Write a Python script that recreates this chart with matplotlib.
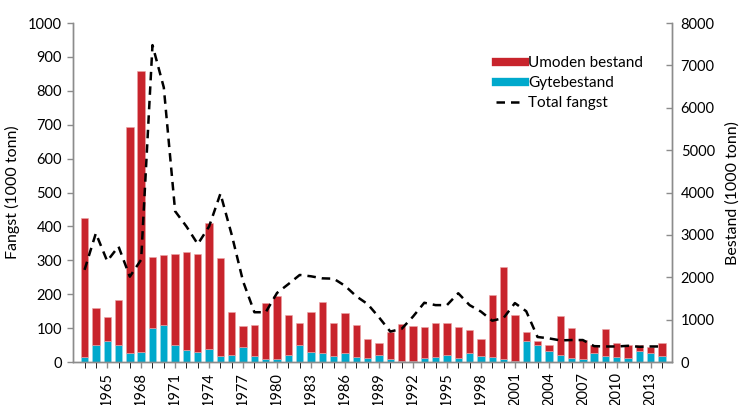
import numpy as np
import matplotlib.pyplot as plt
from matplotlib.lines import Line2D

plt.rcParams['font.family'] = ['Lato', 'DejaVu Sans']

years = np.arange(1963, 2015)

# Bestand (1000 tonn)
gytebestand = [120, 408, 504, 408, 216, 248, 800, 880, 408, 280,
               248, 312, 152, 176, 352, 152, 80, 80, 176, 400,
               248, 216, 152, 224, 128, 96, 168, 72, 24, 24,
               96, 120, 168, 96, 224, 152, 120, 72, 32, 504,
               408, 264, 176, 104, 72, 208, 152, 128, 104, 264,
               208, 152]
umoden_bestand = [3290, 864, 560, 1064, 5328, 6624, 1672, 1648, 2144, 2328,
                  2304, 2976, 2304, 1008, 496, 728, 1312, 1480, 936, 528,
                  936, 1208, 776, 936, 736, 448, 272, 648, 872, 832,
                  736, 800, 752, 736, 528, 400, 1464, 2168, 1080, 216,
                  88, 136, 904, 696, 456, 200, 632, 328, 304, 128,
                  136, 288]

# Fangst (1000 tonn)
total_fangst = [272, 380, 298, 341, 252, 302, 935, 810, 445, 400,
                348, 400, 497, 375, 238, 147, 147, 204, 230, 257,
                253, 247, 246, 225, 194, 171, 132, 90, 98, 134,
                175, 168, 168, 203, 168, 149, 122, 130, 174, 150,
                74, 70, 64, 65, 65, 47, 46, 46, 48, 45,
                46, 46]

tick_years = list(range(1965, 2014, 3))

red = '#C8242C'
cyan = '#00A9CC'
grey = '#8C8C8C'
dash = (0, (3.4, 2.4))

fig = plt.figure(figsize=(7.47, 4.05), dpi=100)
ax = fig.add_axes([0.098, 0.106, 0.802, 0.837])
ax2 = ax.twinx()

# stolper paa hoyre akse
ax2.bar(years, gytebestand, width=0.65, color=cyan, edgecolor='#9ED9E8', linewidth=0.4)
ax2.bar(years, umoden_bestand, width=0.65, bottom=gytebestand, color=red,
        edgecolor='#EBA3A6', linewidth=0.4)

# linje paa venstre akse, tegnet over stolpene
ax.plot(years, total_fangst, color='black', linestyle=dash, linewidth=1.8)
ax.set_zorder(ax2.get_zorder() + 1)
ax.patch.set_visible(False)

ax.set_xlim(1962, 2014.9)
ax.set_ylim(0, 1000)
ax2.set_ylim(0, 8000)
ax.set_yticks(range(0, 1001, 100))
ax2.set_yticks(range(0, 8001, 1000))

ax.set_xticks(years, minor=True)
ax.set_xticks(tick_years)
ax.set_xticklabels([str(y) for y in tick_years], rotation=90)

for a in (ax, ax2):
    a.spines['top'].set_visible(False)
    for s in ('left', 'right', 'bottom'):
        a.spines[s].set_color(grey)
        a.spines[s].set_linewidth(1.0)
    a.tick_params(colors=grey, labelcolor='black', labelsize=10.5, width=1.0)

ax.tick_params(axis='y', direction='out', length=4, pad=4)
ax2.tick_params(axis='y', direction='in', length=4, pad=6)
ax.tick_params(axis='x', which='both', direction='out', length=4, pad=3)

ax.set_ylabel('Fangst (1000 tonn)', fontsize=11.5, labelpad=6)
ax2.set_ylabel('Bestand (1000 tonn)', fontsize=11.5, labelpad=8)

handles = [Line2D([], [], color=red, linewidth=6),
           Line2D([], [], color=cyan, linewidth=6),
           Line2D([], [], color='black', linestyle=dash, linewidth=1.8)]
labels = ['Umoden bestand', 'Gytebestand', 'Total fangst']
ax.legend(handles, labels, loc='upper left', bbox_to_anchor=(0.645, 0.895),
          bbox_transform=fig.transFigure, frameon=False, fontsize=11,
          handlelength=1.9, handletextpad=0.25, labelspacing=0.4)

fig.savefig('out.png', dpi=100)
